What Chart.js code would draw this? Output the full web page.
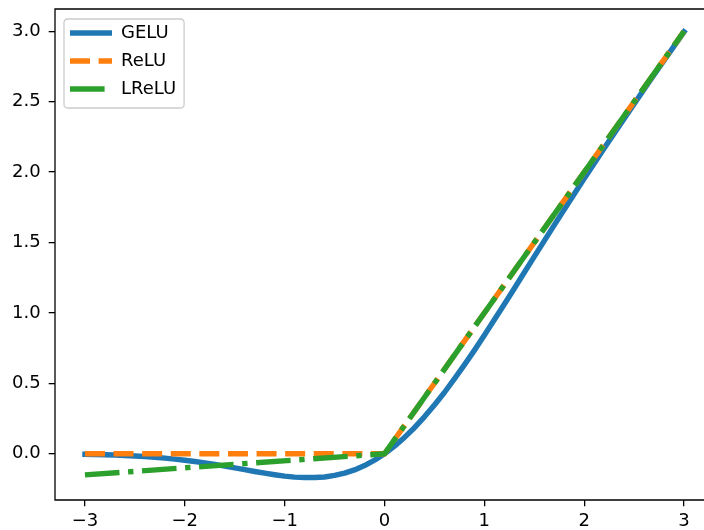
<!DOCTYPE html>
<html>
<head>
<meta charset="utf-8">
<title>GELU / ReLU / LReLU</title>
<script src="https://cdn.jsdelivr.net/npm/chart.js@4/dist/chart.umd.min.js"></script>
<style>
  html, body { margin: 0; padding: 0; background: #fff; overflow: hidden; }
  #wrap { width: 704px; height: 530px; }
</style>
</head>
<body>
<div id="wrap"><canvas id="grafico" width="704" height="530"></canvas></div>
<script>
// Valores
const geluX = [-3.0, -2.9, -2.8, -2.7, -2.6, -2.5, -2.4, -2.3, -2.2, -2.1,
               -2.0, -1.9, -1.8, -1.7, -1.6, -1.5, -1.4, -1.3, -1.2, -1.1,
               -1.0, -0.9, -0.8, -0.7, -0.6, -0.5, -0.4, -0.3, -0.2, -0.1,
                0.0,  0.1,  0.2,  0.3,  0.4,  0.5,  0.6,  0.7,  0.8,  0.9,
                1.0,  1.1,  1.2,  1.3,  1.4,  1.5,  1.6,  1.7,  1.8,  1.9,
                2.0,  2.1,  2.2,  2.3,  2.4,  2.5,  2.6,  2.7,  2.8,  2.9, 3.0];
const geluY = [-0.004, -0.005, -0.007, -0.009, -0.012, -0.016, -0.020, -0.025, -0.031, -0.038,
               -0.046, -0.055, -0.065, -0.076, -0.088, -0.100, -0.113, -0.126, -0.138, -0.149,
               -0.159, -0.166, -0.169, -0.169, -0.165, -0.154, -0.138, -0.115, -0.084, -0.046,
                0.000,  0.054,  0.116,  0.185,  0.262,  0.346,  0.435,  0.531,  0.631,  0.734,
                0.841,  0.951,  1.062,  1.174,  1.287,  1.400,  1.512,  1.624,  1.735,  1.845,
                1.955,  2.062,  2.169,  2.275,  2.380,  2.484,  2.588,  2.691,  2.793,  2.895, 2.996];

const reluX = [-3, 0, 3];
const reluY = [0, 0, 3];

const lreluX = [-3, 0, 3];
const lreluY = [-0.15, 0, 3];

const xTicks = [-3, -2, -1, 0, 1, 2, 3];
const xTickLabels = ['−3', '−2', '−1', '0', '1', '2', '3'];
const yTicks = [0, 0.5, 1, 1.5, 2, 2.5, 3];
const yTickLabels = ['0.0', '0.5', '1.0', '1.5', '2.0', '2.5', '3.0'];

const pontos = (xs, ys) => xs.map((x, i) => ({ x: x, y: ys[i] }));

const FONTE = { family: '"DejaVu Sans", sans-serif', size: 18 };
const LW = 5.4;
const TRACO = 42; // comprimento da amostra de linha na legenda

// moldura da legenda (fundo branco translúcido, borda cinza arredondada)
const molduraLegenda = {
    id: 'molduraLegenda',
    afterLayout(chart) {
        const lg = chart.legend, ca = chart.chartArea;
        const dx = ca.left + 5 - lg.left;
        const dy = ca.top + 5 - lg.top;
        lg.left += dx; lg.right += dx;
        lg.top += dy; lg.bottom += dy;
    },
    beforeDraw(chart) {
        const lg = chart.legend;
        const ctx = chart.ctx;
        const pad = lg.options.labels.padding;
        ctx.save();
        ctx.font = '18px "DejaVu Sans"';
        const maxW = Math.max(...chart.data.datasets.map(d => ctx.measureText(d.label).width));
        const x0 = lg.left + pad - 6;
        const y0 = lg.top + pad - 5;
        const n = chart.data.datasets.length;
        const w = 6 + TRACO + 9 + maxW + 8;
        const h = 5 + n * 18 + (n - 1) * pad + 10;
        const r = 3.6;
        ctx.beginPath();
        ctx.moveTo(x0 + r, y0);
        ctx.arcTo(x0 + w, y0, x0 + w, y0 + h, r);
        ctx.arcTo(x0 + w, y0 + h, x0, y0 + h, r);
        ctx.arcTo(x0, y0 + h, x0, y0, r);
        ctx.arcTo(x0, y0, x0 + w, y0, r);
        ctx.closePath();
        ctx.fillStyle = 'rgba(255,255,255,0.8)';
        ctx.fill();
        ctx.strokeStyle = '#cccccc';
        ctx.lineWidth = 1.3;
        ctx.stroke();
        ctx.restore();
    }
};

// contorno dos eixos (o lado direito fica fora da página)
const contorno = {
    id: 'contorno',
    afterDatasetsDraw(chart) {
        const { ctx, chartArea: a } = chart;
        ctx.save();
        ctx.strokeStyle = '#000';
        ctx.lineWidth = 1.3;
        ctx.beginPath();
        ctx.moveTo(a.right + 2, a.top);
        ctx.lineTo(a.left, a.top);
        ctx.lineTo(a.left, a.bottom);
        ctx.lineTo(a.right + 2, a.bottom);
        ctx.stroke();
        ctx.restore();
    }
};

new Chart(document.getElementById('grafico'), {
    type: 'line',
    data: {
        datasets: [{
            label: 'GELU',
            data: pontos(geluX, geluY),
            borderColor: '#1f77b4',
            borderWidth: LW,
            borderCapStyle: 'square',
            borderJoinStyle: 'round',
            pointRadius: 0,
            order: 3
        }, {
            label: 'ReLU',
            data: pontos(reluX, reluY),
            borderColor: '#ff7f0e',
            borderWidth: LW,
            borderDash: [20, 8.6],
            borderCapStyle: 'butt',
            pointRadius: 0,
            order: 2
        }, {
            label: 'LReLU',
            data: pontos(lreluX, lreluY),
            borderColor: '#2ca02c',
            borderWidth: LW,
            borderDash: [34.6, 8.6, 5.4, 8.6],
            borderCapStyle: 'butt',
            pointRadius: 0,
            order: 1
        }]
    },
    options: {
        responsive: false,
        animation: false,
        layout: { padding: { left: 0, top: 9, right: 0, bottom: 0 } },
        scales: {
            x: {
                type: 'linear',
                min: -3.3,
                max: 3.2,
                afterBuildTicks: (s) => { s.ticks = xTicks.map(v => ({ value: v })); },
                afterFit: (s) => { s.height = 30; s.paddingLeft = 0; s.paddingRight = 0; },
                border: { display: false },
                grid: { drawOnChartArea: false, drawTicks: true, tickLength: 6.3, color: '#000', lineWidth: 1.3 },
                ticks: {
                    font: FONTE,
                    color: '#000',
                    padding: 4,
                    maxRotation: 0,
                    autoSkip: false,
                    callback: (v, i) => xTickLabels[i]
                }
            },
            y: {
                type: 'linear',
                min: -0.3285,
                max: 3.1585,
                afterBuildTicks: (s) => { s.ticks = yTicks.map(v => ({ value: v })); },
                afterFit: (s) => { s.width = 55; s.paddingTop = 0; s.paddingBottom = 0; },
                border: { display: false },
                grid: { drawOnChartArea: false, drawTicks: true, tickLength: 6.3, color: '#000', lineWidth: 1.3 },
                ticks: {
                    font: FONTE,
                    color: '#000',
                    padding: 8,
                    autoSkip: false,
                    callback: (v, i) => yTickLabels[i]
                }
            }
        },
        plugins: {
            tooltip: { enabled: false },
            legend: {
                position: 'chartArea',
                align: 'start',
                labels: {
                    font: FONTE,
                    color: '#000',
                    padding: 10,
                    usePointStyle: true,
                    pointStyle: 'line',
                    pointStyleWidth: TRACO,
                    generateLabels: (chart) => chart.data.datasets.map((ds, i) => ({
                        text: ds.label,
                        fontColor: '#000',
                        fillStyle: ds.borderColor,
                        strokeStyle: ds.borderColor,
                        lineWidth: ds.borderWidth,
                        lineDash: ds.borderDash || [],
                        lineCap: 'butt',
                        pointStyle: 'line',
                        rotation: 180,
                        hidden: false,
                        datasetIndex: i
                    }))
                }
            }
        }
    },
    plugins: [molduraLegenda, contorno]
});
</script>
</body>
</html>
